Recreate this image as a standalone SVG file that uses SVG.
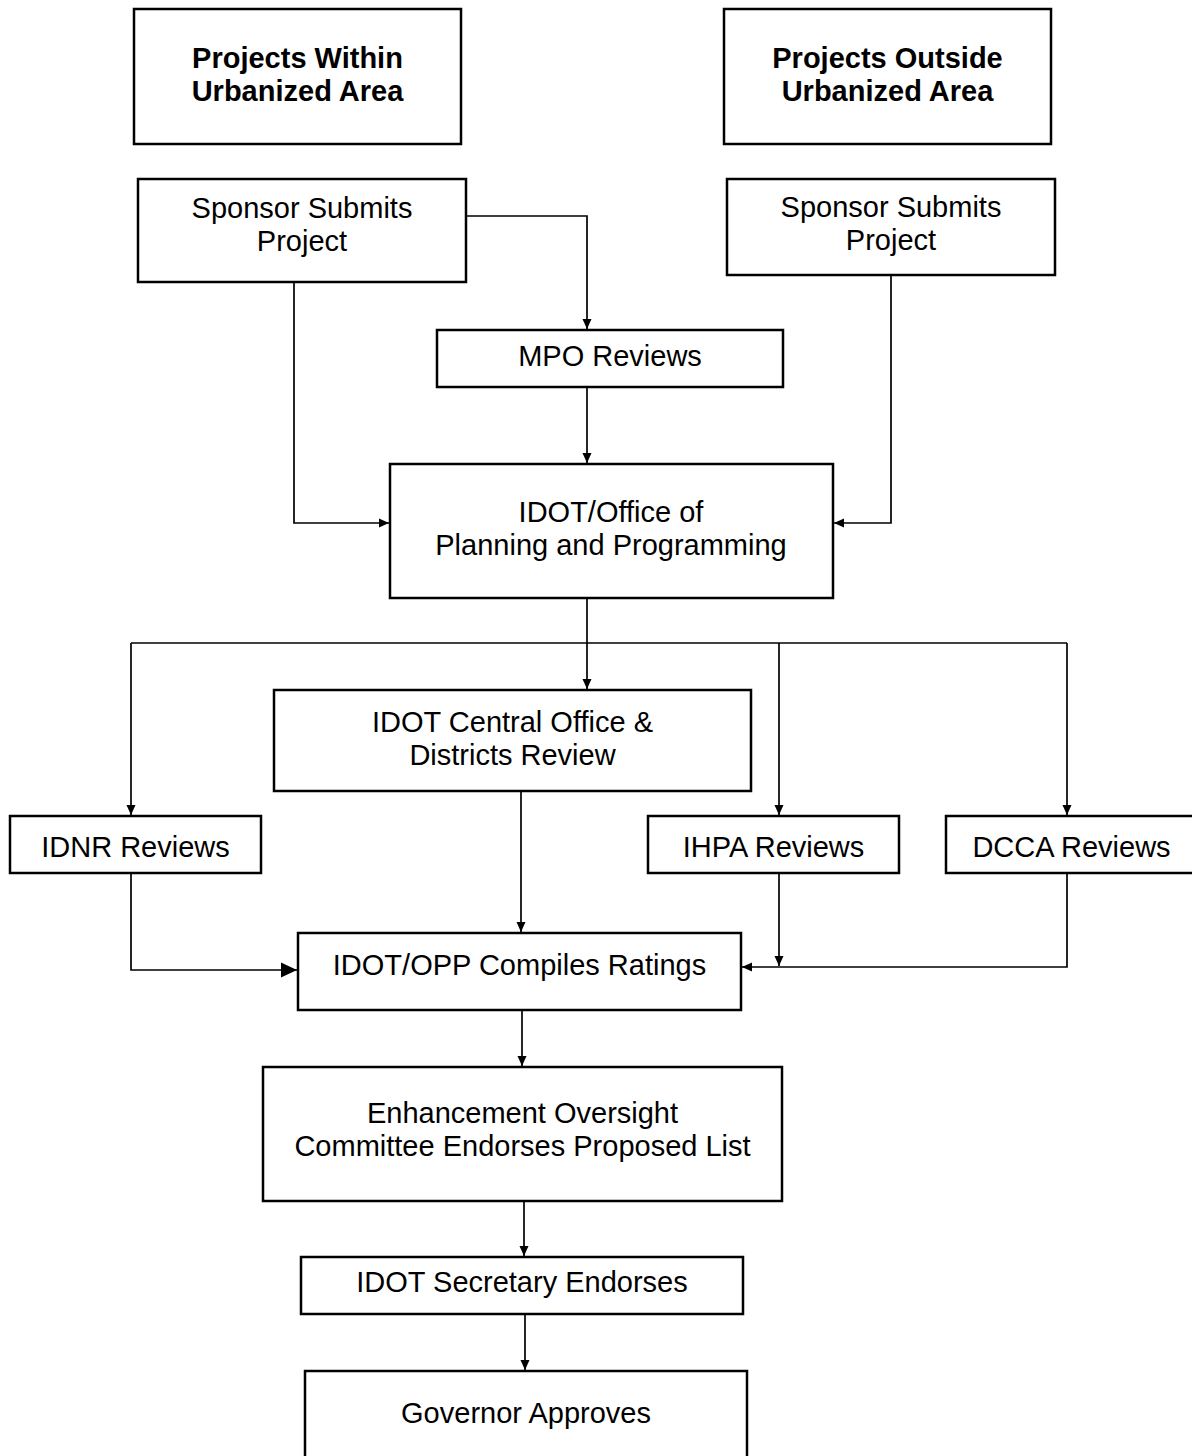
<svg xmlns="http://www.w3.org/2000/svg" width="1192" height="1456" viewBox="0 0 1192 1456">
<style>
  .box { fill: #fff; stroke: #000; stroke-width: 2.5; }
  .t { font-family: "Liberation Sans", Arial, sans-serif; font-size: 29px; fill: #000; text-anchor: middle; }
  .b { font-weight: bold; }
  .c { fill: none; stroke: #000; stroke-width: 1.7; }
</style>
<defs>
  <marker id="a" markerUnits="userSpaceOnUse" markerWidth="11" markerHeight="11" refX="10" refY="5" orient="auto">
    <path d="M0,0.5 L10,5 L0,9.5 z" fill="#000"/>
  </marker>
  <marker id="big" markerUnits="userSpaceOnUse" markerWidth="17" markerHeight="17" refX="16" refY="8" orient="auto">
    <path d="M0,0.5 L16,8 L0,15.5 z" fill="#000"/>
  </marker>
</defs>
<rect width="1192" height="1456" fill="#fff"/>
<g id="connectors">
  <path class="c" d="M294,282 V523 H389" marker-end="url(#a)"/>
  <path class="c" d="M466,216 H587 V329" marker-end="url(#a)"/>
  <path class="c" d="M891,275 V523 H834" marker-end="url(#a)"/>
  <path class="c" d="M587,387 V463" marker-end="url(#a)"/>
  <path class="c" d="M587,598 V689" marker-end="url(#a)"/>
  <path class="c" d="M131,643 H1067"/>
  <path class="c" d="M131,643 V815" marker-end="url(#a)"/>
  <path class="c" d="M779,643 V815" marker-end="url(#a)"/>
  <path class="c" d="M1067,643 V815" marker-end="url(#a)"/>
  <path class="c" d="M521,791 V932" marker-end="url(#a)"/>
  <path class="c" d="M131,873 V970 H297" marker-end="url(#big)"/>
  <path class="c" d="M779,873 V966" marker-end="url(#a)"/>
  <path class="c" d="M1067,873 V967 H742" marker-end="url(#a)"/>
  <path class="c" d="M522,1010 V1066" marker-end="url(#a)"/>
  <path class="c" d="M524,1201 V1256" marker-end="url(#a)"/>
  <path class="c" d="M525,1314 V1370" marker-end="url(#a)"/>
</g>
<g id="hdr-within">
  <rect class="box" x="134" y="9" width="327" height="135"/>
  <text class="t b" x="297.5" y="68">Projects Within</text>
  <text class="t b" x="297.5" y="101">Urbanized Area</text>
</g>
<g id="hdr-outside">
  <rect class="box" x="724" y="9" width="327" height="135"/>
  <text class="t b" x="887.5" y="68">Projects Outside</text>
  <text class="t b" x="887.5" y="101">Urbanized Area</text>
</g>
<g id="sponsor-within">
  <rect class="box" x="138" y="179" width="328" height="103"/>
  <text class="t" x="302" y="218">Sponsor Submits</text>
  <text class="t" x="302" y="251">Project</text>
</g>
<g id="sponsor-outside">
  <rect class="box" x="727" y="179" width="328" height="96"/>
  <text class="t" x="891" y="217">Sponsor Submits</text>
  <text class="t" x="891" y="250">Project</text>
</g>
<g id="mpo">
  <rect class="box" x="437" y="330" width="346" height="57"/>
  <text class="t" x="610" y="366">MPO Reviews</text>
</g>
<g id="idot-opp">
  <rect class="box" x="390" y="464" width="443" height="134"/>
  <text class="t" x="611" y="522">IDOT/Office of</text>
  <text class="t" x="611" y="555">Planning and Programming</text>
</g>
<g id="central">
  <rect class="box" x="274" y="690" width="477" height="101"/>
  <text class="t" x="512.5" y="732">IDOT Central Office &amp;</text>
  <text class="t" x="512.5" y="765">Districts Review</text>
</g>
<g id="idnr">
  <rect class="box" x="10" y="816" width="251" height="57"/>
  <text class="t" x="135.5" y="857">IDNR Reviews</text>
</g>
<g id="ihpa">
  <rect class="box" x="648" y="816" width="251" height="57"/>
  <text class="t" x="773.5" y="857">IHPA Reviews</text>
</g>
<g id="dcca">
  <rect class="box" x="946" y="816" width="252" height="57"/>
  <text class="t" x="1071.5" y="857">DCCA Reviews</text>
</g>
<g id="compiles">
  <rect class="box" x="298" y="933" width="443" height="77"/>
  <text class="t" x="519.5" y="975">IDOT/OPP Compiles Ratings</text>
</g>
<g id="enhancement">
  <rect class="box" x="263" y="1067" width="519" height="134"/>
  <text class="t" x="522.5" y="1123">Enhancement Oversight</text>
  <text class="t" x="522.5" y="1156">Committee Endorses Proposed List</text>
</g>
<g id="secretary">
  <rect class="box" x="301" y="1257" width="442" height="57"/>
  <text class="t" x="522" y="1292">IDOT Secretary Endorses</text>
</g>
<g id="governor">
  <rect class="box" x="305" y="1371" width="442" height="100"/>
  <text class="t" x="526" y="1423">Governor Approves</text>
</g>
</svg>
